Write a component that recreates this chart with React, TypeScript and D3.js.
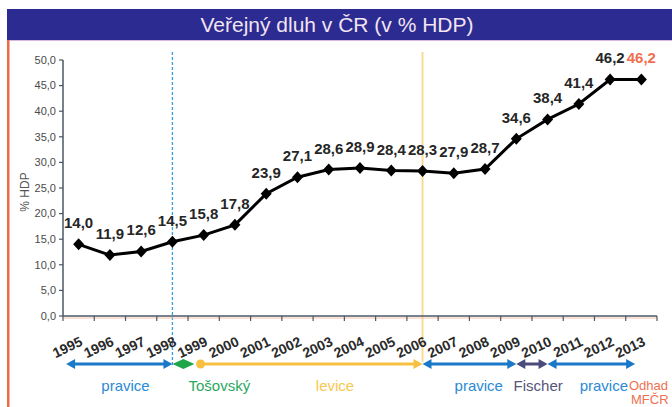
import * as d3 from "d3";

const years = [1995, 1996, 1997, 1998, 1999, 2000, 2001, 2002, 2003, 2004, 2005, 2006, 2007, 2008, 2009, 2010, 2011, 2012, 2013];
const debt = [14.0, 11.9, 12.6, 14.5, 15.8, 17.8, 23.9, 27.1, 28.6, 28.9, 28.4, 28.3, 27.9, 28.7, 34.6, 38.4, 41.4, 46.2, 46.2];
const yTicks = [0, 5, 10, 15, 20, 25, 30, 35, 40, 45, 50];

// government eras shown under the axis (fractional years along the axis)
const eraNames = ["pravice", "Tošovský", "levice", "pravice", "Fischer", "pravice"];
const eraFrom = [1994.6, 1998, 1998.9, 2006, 2009, 2010];
const eraTo = [1998, 1998.7, 2006, 2009, 2010, 2012.8];
const eraLabelAt = [1996.5, 1999.5, 2003.2, 2007.8, 2009.7, 2011.8];
const eraColors = ["#1a78c8", "#1fa54a", "#f7c040", "#1a78c8", "#4a4a7c", "#1a78c8"];
const eraTextColors = ["#2a8ad8", "#2aa860", "#f7c850", "#2a8ad8", "#55557a", "#2a8ad8"];

const font = "'Liberation Sans', Arial, sans-serif";

export default function App() {
  const width = 672;
  const height = 407;
  const marginLeft = 63;
  const plotRight = 657;
  const yTop = 60;
  const yBottom = 316;

  const x = d3.scaleBand<number>().domain(years).range([marginLeft, plotRight]).padding(0);
  const y = d3.scaleLinear().domain([0, 50]).range([yBottom, yTop]);
  const bw = x.bandwidth();
  const cx = (yr: number) => (x(yr) as number) + bw / 2;
  const pos = (yr: number) => cx(1995) + (yr - 1995) * bw;
  const fmt = (v: number) => d3.format(".1f")(v).replace(".", ",");

  const line = d3
    .line<number>()
    .x((_, i) => cx(years[i]))
    .y((d) => y(d));

  const arrowY = 364;
  const diamond = (px: number, py: number, rx: number, ry: number) =>
    `M${px - rx},${py}L${px},${py - ry}L${px + rx},${py}L${px},${py + ry}Z`;
  const head = (tip: number, dir: number, py: number, col: string, key: string) => (
    <path key={key} d={`M${tip},${py}L${tip - dir * 9},${py - 5}L${tip - dir * 9},${py + 5}Z`} fill={col} />
  );

  return (
    <svg width={width} height={height} style={{ position: "absolute", left: 0, top: 0, background: "#fff" }} fontFamily={font}>
      {/* title bar */}
      <rect x={7} y={9} width={665} height={31} fill="#2b2b91" />
      <line x1={7} x2={672} y1={40.5} y2={40.5} stroke="#d8b8e0" />
      <text x={337} y={32} textAnchor="middle" fontSize={21} fill="#f2e4f0">
        Veřejný dluh v ČR (v % HDP)
      </text>
      <rect x={7} y={40} width={2.5} height={367} fill="#ec6a44" />

      {/* era separators */}
      <line x1={cx(1998)} x2={cx(1998)} y1={52} y2={366} stroke="#3a9ae0" strokeWidth={1.3} strokeDasharray="3,2" />
      <line x1={cx(2006)} x2={cx(2006)} y1={52} y2={362} stroke="#f9dc94" strokeWidth={2} />

      {/* y axis */}
      <line x1={marginLeft} x2={marginLeft} y1={yTop} y2={yBottom} stroke="#4a5866" strokeWidth={1.5} />
      {yTicks.map((t) => (
        <g key={t} transform={`translate(${marginLeft},${y(t)})`}>
          <line x1={-4} x2={0} stroke="#4a5866" strokeWidth={1.2} />
          <text x={-7} dy="0.35em" textAnchor="end" fontSize={11} fill="#4a4a4a">
            {fmt(t)}
          </text>
        </g>
      ))}
      <text transform="translate(29,192) rotate(-90)" textAnchor="middle" fontSize={12} fill="#555">
        % HDP
      </text>

      {/* x axis */}
      <line x1={marginLeft} x2={plotRight} y1={yBottom + 2} y2={yBottom + 2} stroke="#f6c0b0" strokeWidth={1} />
      <line x1={marginLeft} x2={plotRight} y1={yBottom} y2={yBottom} stroke="#4a5866" strokeWidth={1.5} />
      {years.map((yr) => (
        <line key={"t" + yr} x1={(x(yr) as number) + bw} x2={(x(yr) as number) + bw} y1={yBottom} y2={yBottom + 5} stroke="#4a5866" strokeWidth={1.2} />
      ))}
      <line x1={marginLeft} x2={marginLeft} y1={yBottom} y2={yBottom + 5} stroke="#4a5866" strokeWidth={1.2} />
      {years.map((yr) => (
        <text
          key={"l" + yr}
          transform={`translate(${cx(yr) + 5},${yBottom + 29}) rotate(-25)`}
          textAnchor="end"
          fontSize={14}
          fontWeight="bold"
          fill="#2a2a2a"
        >
          {yr}
        </text>
      ))}

      {/* series */}
      <path d={line(debt) ?? ""} fill="none" stroke="#000" strokeWidth={3} />
      {debt.map((v, i) => (
        <path key={"m" + i} d={diamond(cx(years[i]), y(v), 5.5, 6)} fill="#000" />
      ))}
      {debt.map((v, i) => (
        <text
          key={"v" + i}
          x={cx(years[i])}
          y={y(v) - 16}
          textAnchor="middle"
          fontSize={15}
          fontWeight="bold"
          fill={i === debt.length - 1 ? "#f07050" : "#262626"}
        >
          {fmt(v)}
        </text>
      ))}

      {/* eras */}
      {eraNames.map((name, i) => {
        const x1 = pos(eraFrom[i]);
        const x2 = pos(eraTo[i]);
        const col = eraColors[i];
        const parts = [];
        if (i === 1) {
          parts.push(<path key="d" d={diamond((x1 + x2) / 2, arrowY, (x2 - x1) / 2, 5)} fill={col} />);
        } else if (i === 2) {
          parts.push(<line key="s" x1={x1} x2={x2 - 8} y1={arrowY} y2={arrowY} stroke={col} strokeWidth={3} />);
          parts.push(<circle key="c" cx={x1} cy={arrowY} r={4.5} fill={col} />);
          parts.push(head(x2, 1, arrowY, col, "h2"));
        } else {
          parts.push(<line key="s" x1={x1 + 8} x2={x2 - 8} y1={arrowY} y2={arrowY} stroke={col} strokeWidth={3} />);
          parts.push(head(x1, -1, arrowY, col, "h1"));
          parts.push(head(x2, 1, arrowY, col, "h2"));
        }
        return (
          <g key={"e" + i}>
            {parts}
            <text x={pos(eraLabelAt[i])} y={391} textAnchor="middle" fontSize={15} fill={eraTextColors[i]}>
              {name}
            </text>
          </g>
        );
      })}
      <text x={629} y={390} fontSize={13} fill="#f07050">Odhad</text>
      <text x={631} y={404} fontSize={13} fill="#f07050">MFČR</text>
    </svg>
  );
}
